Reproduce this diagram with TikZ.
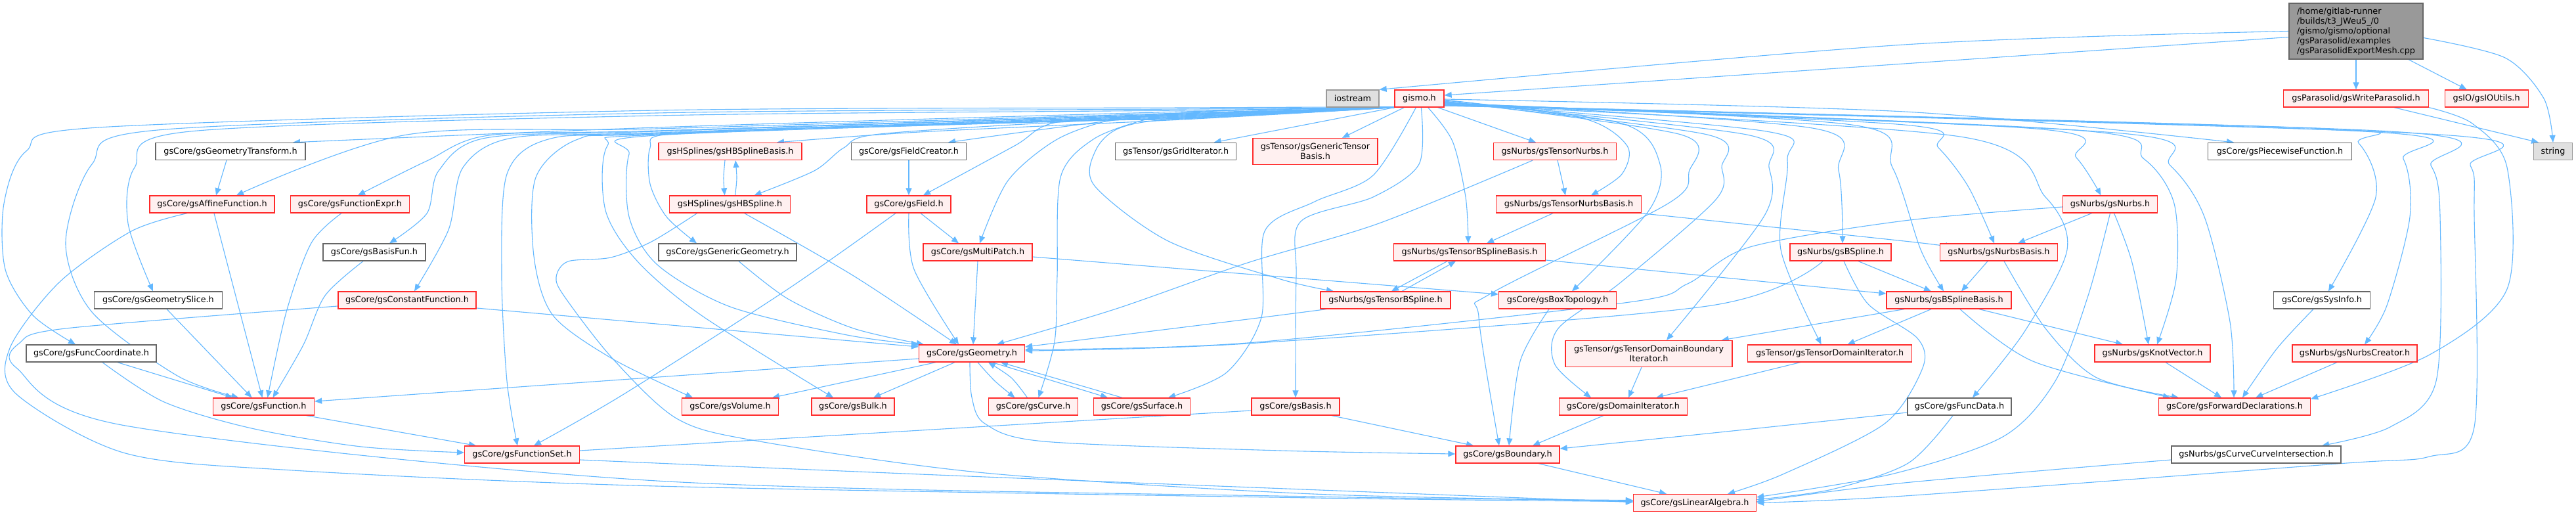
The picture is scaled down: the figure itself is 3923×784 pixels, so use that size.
\documentclass[tikz,border=0pt]{standalone}
\usepackage{fontspec}
\setmainfont{DejaVu Sans}
\usetikzlibrary{arrows.meta,backgrounds}
\definecolor{edgec}{HTML}{63B8FF}
\definecolor{redb}{HTML}{FF2A2A}
\definecolor{redf}{HTML}{FFF0F0}
\definecolor{grayb}{HTML}{666666}
\definecolor{extb}{HTML}{999999}
\definecolor{extf}{HTML}{E0E0E0}
\definecolor{mainf}{HTML}{999999}
\tikzset{
  box/.style={rectangle, minimum height=26pt, inner xsep=6pt, inner ysep=2pt, line width=1.3pt,
    font=\fontsize{12.8}{15}\selectfont, text=black, align=center},
  redbox/.style={box, draw=redb, fill=redf},
  graybox/.style={box, draw=grayb, fill=white},
  extbox/.style={box, draw=extb, fill=extf},
  mainbox/.style={box, draw=grayb, fill=mainf, align=left},
  dep/.style={draw=edgec, line width=1.1pt, -{Triangle[length=11pt,width=9pt]}}
}
\newcommand{\depedge}[1]{\draw[dep] plot[smooth,tension=0.5] coordinates {#1};}
\begin{document}
\begin{tikzpicture}[x=1pt,y=-1pt]
\useasboundingbox (0,0) rectangle (3923,784);
% nodes
\node[mainbox, minimum width=204pt, minimum height=85pt] (main) at (3588,47.5) {/home/gitlab-runner\\/builds/t3\_JWeu5\_/0\\/gismo/gismo/optional\\/gsParasolid/examples\\/gsParasolidExportMesh.cpp};
\node[extbox, minimum width=80pt] (iostream) at (2060,150) {iostream};
\node[redbox, minimum width=75pt] (gismo) at (2161.5,150) {gismo.h};
\node[redbox, minimum width=221pt] (writeps) at (3588,150) {gsParasolid/gsWriteParasolid.h};
\node[redbox, minimum width=127pt] (ioutils) at (3786.6,150) {gsIO/gsIOUtils.h};
\node[graybox, minimum width=228pt] (geomtrans) at (351,230.5) {gsCore/gsGeometryTransform.h};
\node[redbox, minimum width=218pt] (hbsbasis) at (1112,230.5) {gsHSplines/gsHBSplineBasis.h};
\node[graybox, minimum width=175pt] (fieldcreator) at (1384,230.5) {gsCore/gsFieldCreator.h};
\node[graybox, minimum width=184pt] (griditer) at (1790.6,230.5) {gsTensor/gsGridIterator.h};
\node[redbox, minimum width=190pt, minimum height=40pt] (gentensor) at (2003,230.5) {gsTensor/gsGenericTensor\\Basis.h};
\node[redbox, minimum width=187pt] (tnurbs) at (2368,230.5) {gsNurbs/gsTensorNurbs.h};
\node[graybox, minimum width=219pt] (piecewise) at (3472,230.5) {gsCore/gsPiecewiseFunction.h};
\node[extbox, minimum width=59pt] (string) at (3888,230.5) {string};
\node[redbox, minimum width=190pt] (affine) at (323,311) {gsCore/gsAffineFunction.h};
\node[redbox, minimum width=181pt] (fexpr) at (533,311) {gsCore/gsFunctionExpr.h};
\node[redbox, minimum width=184pt] (hbspline) at (1111.6,311) {gsHSplines/gsHBSpline.h};
\node[redbox, minimum width=128pt] (field) at (1384,311) {gsCore/gsField.h};
\node[redbox, minimum width=221pt] (tnbasis) at (2389,311) {gsNurbs/gsTensorNurbsBasis.h};
\node[redbox, minimum width=144pt] (nurbs) at (3213.5,311) {gsNurbs/gsNurbs.h};
\node[graybox, minimum width=156pt] (basisfun) at (570,384) {gsCore/gsBasisFun.h};
\node[graybox, minimum width=210pt] (generic) at (1108,384) {gsCore/gsGenericGeometry.h};
\node[redbox, minimum width=166pt] (multipatch) at (1489,384) {gsCore/gsMultiPatch.h};
\node[redbox, minimum width=231pt] (tbsbasis) at (2238,384) {gsNurbs/gsTensorBSplineBasis.h};
\node[redbox, minimum width=154pt] (bspline) at (2803,384) {gsNurbs/gsBSpline.h};
\node[redbox, minimum width=179pt] (nbasis) at (3044,384) {gsNurbs/gsNurbsBasis.h};
\node[graybox, minimum width=195pt] (gslice) at (241,457) {gsCore/gsGeometrySlice.h};
\node[redbox, minimum width=210pt] (constfun) at (620,457) {gsCore/gsConstantFunction.h};
\node[redbox, minimum width=198pt] (tbspline) at (2110,457) {gsNurbs/gsTensorBSpline.h};
\node[redbox, minimum width=179pt] (boxtop) at (2372,457) {gsCore/gsBoxTopology.h};
\node[redbox, minimum width=190pt] (bsbasis) at (2968,457) {gsNurbs/gsBSplineBasis.h};
\node[graybox, minimum width=147pt] (sysinfo) at (3536,457) {gsCore/gsSysInfo.h};
\node[graybox, minimum width=198pt] (funccoord) at (139,538) {gsCore/gsFuncCoordinate.h};
\node[redbox, minimum width=161pt] (geometry) at (1480,538) {gsCore/gsGeometry.h};
\node[redbox, minimum width=254pt, minimum height=40pt] (tdbiter) at (2511,538.5) {gsTensor/gsTensorDomainBoundary\\Iterator.h};
\node[redbox, minimum width=250pt] (tditer) at (2786.6,538) {gsTensor/gsTensorDomainIterator.h};
\node[redbox, minimum width=176pt] (knotvec) at (3278,538) {gsNurbs/gsKnotVector.h};
\node[redbox, minimum width=190pt] (ncreator) at (3586,538) {gsNurbs/gsNurbsCreator.h};
\node[redbox, minimum width=154pt] (function) at (401.5,619) {gsCore/gsFunction.h};
\node[redbox, minimum width=147pt] (volume) at (1112,619) {gsCore/gsVolume.h};
\node[redbox, minimum width=126pt] (bulk) at (1299,619) {gsCore/gsBulk.h};
\node[redbox, minimum width=136pt] (curve) at (1573.5,619) {gsCore/gsCurve.h};
\node[redbox, minimum width=147pt] (surface) at (1739,619) {gsCore/gsSurface.h};
\node[redbox, minimum width=134pt] (basis) at (1973,619) {gsCore/gsBasis.h};
\node[redbox, minimum width=195pt] (domiter) at (2472,619) {gsCore/gsDomainIterator.h};
\node[graybox, minimum width=158pt] (funcdata) at (2984,619) {gsCore/gsFuncData.h};
\node[redbox, minimum width=231pt] (fwddecl) at (3403,619) {gsCore/gsForwardDeclarations.h};
\node[redbox, minimum width=175pt] (fset) at (795,692) {gsCore/gsFunctionSet.h};
\node[redbox, minimum width=158pt] (boundary) at (2296,692) {gsCore/gsBoundary.h};
\node[graybox, minimum width=258pt] (cci) at (3436,692) {gsNurbs/gsCurveCurveIntersection.h};
\node[redbox, minimum width=187pt] (linalg) at (2581,765.5) {gsCore/gsLinearAlgebra.h};
\begin{scope}[on background layer]
\fill[white] (0,0) rectangle (3923,784);
% main file
\depedge{(main.west) (2900,68) (iostream.north east)}
\depedge{([yshift=-9pt]main.west) (2900,97) ([yshift=5pt]gismo.east)}
\depedge{(main.south) (writeps.north)}
\depedge{([xshift=80pt]main.south) ([xshift=-30pt]ioutils.north)}
\depedge{([yshift=-10pt]main.east) (3815,88) (3874,150) (string.north)}
% writeparasolid
\depedge{([xshift=58pt]writeps.south) ([xshift=-22pt]string.north)}
\depedge{(writeps.south east) (3765,188) (3818,255) (3818,440) (3700,540) ([yshift=-2pt]fwddecl.north east)}
% gismo, left bundle
\depedge{([yshift=1pt]gismo.south west) (1800,164) (1000,168) (150,194) (40,230) (6,310) (8,410) (50,480) ([xshift=-24pt]funccoord.north)}
\depedge{(gismo.south west) (1800,166) (1000,172) (240,198) (140,250) (100,370) (140,475) (270,572) ([xshift=-38pt]function.north)}
\depedge{(gismo.south west) (1800,168) (1000,176) (290,200) (205,255) (195,340) ([xshift=-8pt]gslice.north)}
\depedge{(gismo.south west) (1800,170) (1000,194) ([xshift=95pt]geomtrans.north)}
\depedge{(gismo.south west) (1800,172) (1000,196) (620,205) ([xshift=37pt]affine.north)}
\depedge{(gismo.south west) (1800,173) (1000,199) (745,206) (650,245) ([xshift=12pt]fexpr.north)}
\depedge{(gismo.south west) (1800,174) (1000,200) (740,210) (668,260) (650,325) ([xshift=23pt]basisfun.north)}
\depedge{(gismo.south west) (1800,175) (1000,202) (780,210) (705,255) (683,350) ([xshift=11pt]constfun.north)}
\depedge{(gismo.south west) (1800,176) (1000,203) (835,212) (772,265) (764,420) (772,580) ([xshift=-7pt]fset.north)}
\depedge{(gismo.south west) (1800,177) (1000,204) (880,212) (816,270) (813,390) (842,480) (934,547) ([xshift=-57pt]volume.north)}
\depedge{(gismo.south west) (1800,178) (1000,205) (925,222) (922,320) (970,397) (1068,480) ([xshift=-30pt]bulk.north)}
\depedge{(gismo.south west) (1800,179) (1000,206) (958,235) (958,330) (1001,403) (1112,467) (1290,510) (geometry.north west)}
\depedge{(gismo.south west) (1800,180) (1300,192) (1020,204) (990,225) (990,280) (1015,330) ([xshift=-47pt]generic.north)}
\depedge{(gismo.south west) (1800,182) (1400,201) ([xshift=71pt]hbsbasis.north)}
\depedge{(gismo.south west) (1800,181) (1652,184) (1340,204) (1285,225) (1240,260) ([xshift=37pt]hbspline.north)}
\depedge{(gismo.south west) (1800,172) ([xshift=60pt]fieldcreator.north)}
\depedge{(gismo.south west) (1800,174) (1610,186) (1545,222) ([xshift=22pt]field.north)}
\depedge{(gismo.south west) (1800,176) (1700,181) (1610,212) (1535,275) ([xshift=3pt]multipatch.north)}
\depedge{(gismo.south west) (1800,178) (1745,182) (1665,212) (1615,270) (1610,420) (1606,520) ([xshift=8pt]curve.north)}
\depedge{(gismo.south west) (1800,180) (1705,195) (1668,230) (1667,283) (1779,367) (1950,425) ([xshift=-79pt]tbspline.north)}
\depedge{(gismo.south west) ([xshift=58pt]griditer.north)}
\depedge{([xshift=15pt]gismo.south west) ([xshift=41pt]gentensor.north)}
\depedge{([xshift=41pt]gismo.south west) (2161,250) (2091,300) (1981,337) (1974,420) (basis.north)}
\depedge{([xshift=33pt]gismo.south west) (2091,267) (2002,307) (1926,352) (1921,483) (1868,567) ([xshift=40pt]surface.north)}
% gismo, right bundle
\depedge{([xshift=-10pt]gismo.south east) ([xshift=-29pt]tnurbs.north)}
\depedge{([yshift=-2pt]gismo.east) (2410,180) (2478,222) (2470,265) ([xshift=34pt]tnbasis.north)}
\depedge{([xshift=-25pt]gismo.south east) (2212,215) (2232,300) ([xshift=-2pt]tbsbasis.north)}
\depedge{([yshift=-3pt]gismo.east) (2470,188) (2528,250) (2510,322) ([xshift=22pt]boxtop.north)}
\depedge{([yshift=-4pt]gismo.east) (2560,205) (2572,262) (2540,310) (2270,447) (2252,483) ([xshift=-13pt]boundary.north)}
\depedge{([yshift=-5pt]gismo.east) (2600,205) (2622,255) (2612,305) (2468,430) (2373,500) (2368,555) ([xshift=-49pt]domiter.north)}
\depedge{([yshift=-5pt]gismo.east) (2660,205) (2694,255) (2686,330) ([xshift=27pt]tdbiter.north)}
\depedge{([yshift=-6pt]gismo.east) (2690,200) (2722,245) (2712,380) ([xshift=-13pt]tditer.north)}
\depedge{([yshift=-6pt]gismo.east) (2760,195) (2800,260) ([xshift=3pt]bspline.north)}
\depedge{([yshift=-7pt]gismo.east) (2820,190) (2882,255) (2925,380) ([xshift=-8pt]bsbasis.north)}
\depedge{([yshift=-7pt]gismo.east) (2900,190) (2952,225) (2998,285) ([xshift=-7pt]nbasis.north)}
\depedge{([yshift=-8pt]gismo.east) (3100,196) (3162,240) ([xshift=-14pt]nurbs.north)}
\depedge{([yshift=-8pt]gismo.east) (3160,198) (3265,242) (3311,310) (3314,425) ([xshift=7pt]knotvec.north)}
\depedge{([yshift=-9pt]gismo.east) (3220,202) (3305,252) (3357,330) (3396,490) ([xshift=-1pt]fwddecl.north)}
\depedge{([yshift=-9pt]gismo.east) (2985,208) (3115,300) (3148,380) (3083,505) ([xshift=20pt]funcdata.north)}
\depedge{([yshift=-1pt]gismo.east) (2900,170) ([xshift=-70pt]piecewise.north)}
\depedge{([yshift=-10pt]gismo.east) (3520,195) (3592,218) (3618,300) ([xshift=10pt]sysinfo.north)}
\depedge{([yshift=-10pt]gismo.east) (3600,200) (3660,242) (3670,330) (3635,465) ([xshift=15pt]ncreator.north)}
\depedge{([yshift=-11pt]gismo.east) (3640,200) (3702,252) (3716,330) (3710,580) (3640,650) ([xshift=100pt]cci.north)}
\depedge{([yshift=-11pt]gismo.east) (3700,204) (3762,252) (3768,330) (3768,650) (3700,695) (3560,706) (2900,755) (linalg.east)}
% left side headers
\depedge{([xshift=-6pt]geomtrans.south) ([xshift=6pt]affine.north)}
\depedge{([xshift=3pt]affine.south) ([xshift=-2pt]function.north)}
\depedge{([xshift=-38pt]affine.south) (200,352) (90,430) (15,530) (25,600) (191,690) (446,716) (1000,740) (2000,758) ([yshift=2pt]linalg.west)}
\depedge{([xshift=-13pt]fexpr.south) (474,370) (436,475) ([xshift=6pt]function.north)}
\depedge{([xshift=-17pt]basisfun.south) (495,450) (462,525) ([xshift=14pt]function.north)}
\depedge{([xshift=13pt]gslice.south) ([xshift=-18pt]function.north)}
\depedge{([yshift=-12pt]constfun.east) ([yshift=10pt]geometry.west)}
\depedge{([yshift=-9pt]constfun.west) (100,500) (30,522) (25,560) (191,648) (1000,732) (2000,756) ([yshift=4pt]linalg.west)}
\depedge{([xshift=40pt]funccoord.south) ([xshift=-47pt]function.north)}
\depedge{([xshift=17pt]funccoord.south) (250,612) (383,652) (550,680) ([yshift=3pt]fset.west)}
\depedge{([xshift=65pt]function.south) ([xshift=-70pt]fset.north)}
\depedge{([yshift=-8pt]fset.east) (1500,726) ([yshift=1pt]linalg.west)}
% hierarchical splines
\depedge{([xshift=-8pt]hbsbasis.south) (1102,271) ([xshift=-8pt]hbspline.north)}
\depedge{([xshift=8pt]hbspline.north) (1122,271) ([xshift=8pt]hbsbasis.south)}
\depedge{([xshift=22pt]hbspline.south) (1300,420) ([xshift=-23pt]geometry.north)}
\depedge{([xshift=-50pt]hbspline.south) (992,368) (930,392) (865,398) (847,422) (860,452) (934,547) (1032,638) (1157,672) (1500,720) (2000,752) ([yshift=3pt]linalg.west)}
% field, multipatch, geometry
\depedge{(fieldcreator.south) (field.north)}
\depedge{([xshift=18pt]field.south) ([xshift=-29pt]multipatch.north)}
\depedge{(field.south) (1392,410) ([xshift=-20pt]geometry.north)}
\depedge{([xshift=-20pt]field.south) (1200,440) (950,600) ([xshift=18pt]fset.north)}
\depedge{(multipatch.south) ([xshift=2pt]geometry.north)}
\depedge{([yshift=-7pt]multipatch.east) ([yshift=9pt]boxtop.west)}
\depedge{([xshift=17pt]generic.south) (1200,455) (1300,500) ([xshift=8pt]geometry.north west)}
\depedge{([yshift=-8pt]geometry.west) ([yshift=8pt]function.east)}
\depedge{([xshift=-55pt]geometry.south) ([xshift=64pt]volume.north)}
\depedge{([xshift=-26pt]geometry.south) ([xshift=31pt]bulk.north)}
\depedge{([xshift=9pt]geometry.south) (1515,580) ([xshift=-28pt]curve.north)}
\depedge{([xshift=-9pt]curve.north) (1540,575) ([xshift=25pt]geometry.south)}
\depedge{([xshift=31pt]geometry.south) ([xshift=-52pt]surface.north)}
\depedge{([xshift=-30pt]surface.north) ([xshift=44pt]geometry.south)}
\depedge{([xshift=-3pt]geometry.south) (1480,605) (1500,645) (1590,672) (1950,686) ([yshift=1pt]boundary.west)}
% tensor nurbs / bsplines
\depedge{([xshift=4pt]tnurbs.south) ([xshift=-5pt]tnbasis.north)}
\depedge{([xshift=-34pt]tnurbs.south) (2100,340) (1900,400) (1700,470) ([xshift=38pt]geometry.north)}
\depedge{([xshift=-24pt]tnbasis.south) ([xshift=26pt]tbsbasis.north)}
\depedge{([xshift=110pt]tnbasis.south) (2900,367) ([yshift=10pt]nbasis.west)}
\depedge{([xshift=-34pt]tbsbasis.south) ([xshift=9pt]tbspline.north)}
\depedge{([xshift=25pt]tbspline.north) ([xshift=-21pt]tbsbasis.south)}
\depedge{([yshift=-12pt]tbsbasis.east) ([yshift=10pt]bsbasis.west)}
\depedge{([xshift=-90pt]tbspline.south) (1900,486) ([yshift=10pt]geometry.east)}
\depedge{([xshift=-13pt]boxtop.south) (2315,550) ([xshift=2pt]boundary.north)}
\depedge{([xshift=27pt]bspline.south) ([xshift=-27pt]bsbasis.north)}
\depedge{([xshift=-27pt]bspline.south) (2600,466) (1900,523) ([yshift=4pt]geometry.east)}
\depedge{([xshift=5pt]bspline.south) (2845,463) (2920,515) (2928,560) (2870,645) (2715,722) ([xshift=50pt]linalg.north)}
\depedge{([yshift=-4pt]nurbs.west) (2900,336) (2665,376) (2570,432) (2474,461) (1900,522) ([yshift=6pt]geometry.east)}
\depedge{(nurbs.south) (3180,450) (3130,580) (3050,665) (2880,722) ([yshift=-5pt]linalg.north east)}
\depedge{([xshift=-28pt]nurbs.south) ([xshift=29pt]nbasis.north)}
\depedge{([xshift=6pt]nurbs.south) (3247,400) ([xshift=-6pt]knotvec.north)}
\depedge{([xshift=-17pt]nbasis.south) ([xshift=19pt]bsbasis.north)}
\depedge{([xshift=8pt]nbasis.south) (3115,500) (3193,575) ([xshift=-85pt]fwddecl.north)}
\depedge{([xshift=17pt]bsbasis.south) (3096,550) ([xshift=-98pt]fwddecl.north)}
\depedge{([xshift=46pt]bsbasis.south) ([xshift=-45pt]knotvec.north)}
\depedge{([xshift=-68pt]bsbasis.south) ([xshift=-17pt]tdbiter.north east)}
\depedge{([xshift=-27pt]bsbasis.south) ([xshift=27pt]tditer.north)}
\depedge{([xshift=20pt]knotvec.south) ([xshift=-20pt]fwddecl.north)}
\depedge{([xshift=-27pt]ncreator.south) ([xshift=32pt]fwddecl.north)}
\depedge{([xshift=-13pt]sysinfo.south) (3468,530) ([xshift=12pt]fwddecl.north)}
% iterators, boundary, basis
\depedge{([xshift=-11pt]tdbiter.south) ([xshift=8pt]domiter.north)}
\depedge{([xshift=-45pt]tditer.south) ([xshift=50pt]domiter.north)}
\depedge{([xshift=-30pt]domiter.south) ([xshift=38pt]boundary.north)}
\depedge{([xshift=55pt]basis.south) ([xshift=-52pt]boundary.north)}
\depedge{([yshift=-6pt]basis.west) (950,682) ([yshift=6pt]fset.east)}
\depedge{([yshift=-9pt]funcdata.west) (2600,660) ([yshift=9pt]boundary.east)}
\depedge{([xshift=-10pt]funcdata.south) (2906,705) (2790,745) ([yshift=5pt]linalg.east)}
\depedge{([yshift=-8pt]cci.west) (2900,735) ([yshift=2pt]linalg.east)}
\depedge{([xshift=47pt]boundary.south) ([xshift=-43pt]linalg.north)}
\end{scope}
\end{tikzpicture}
\end{document}
